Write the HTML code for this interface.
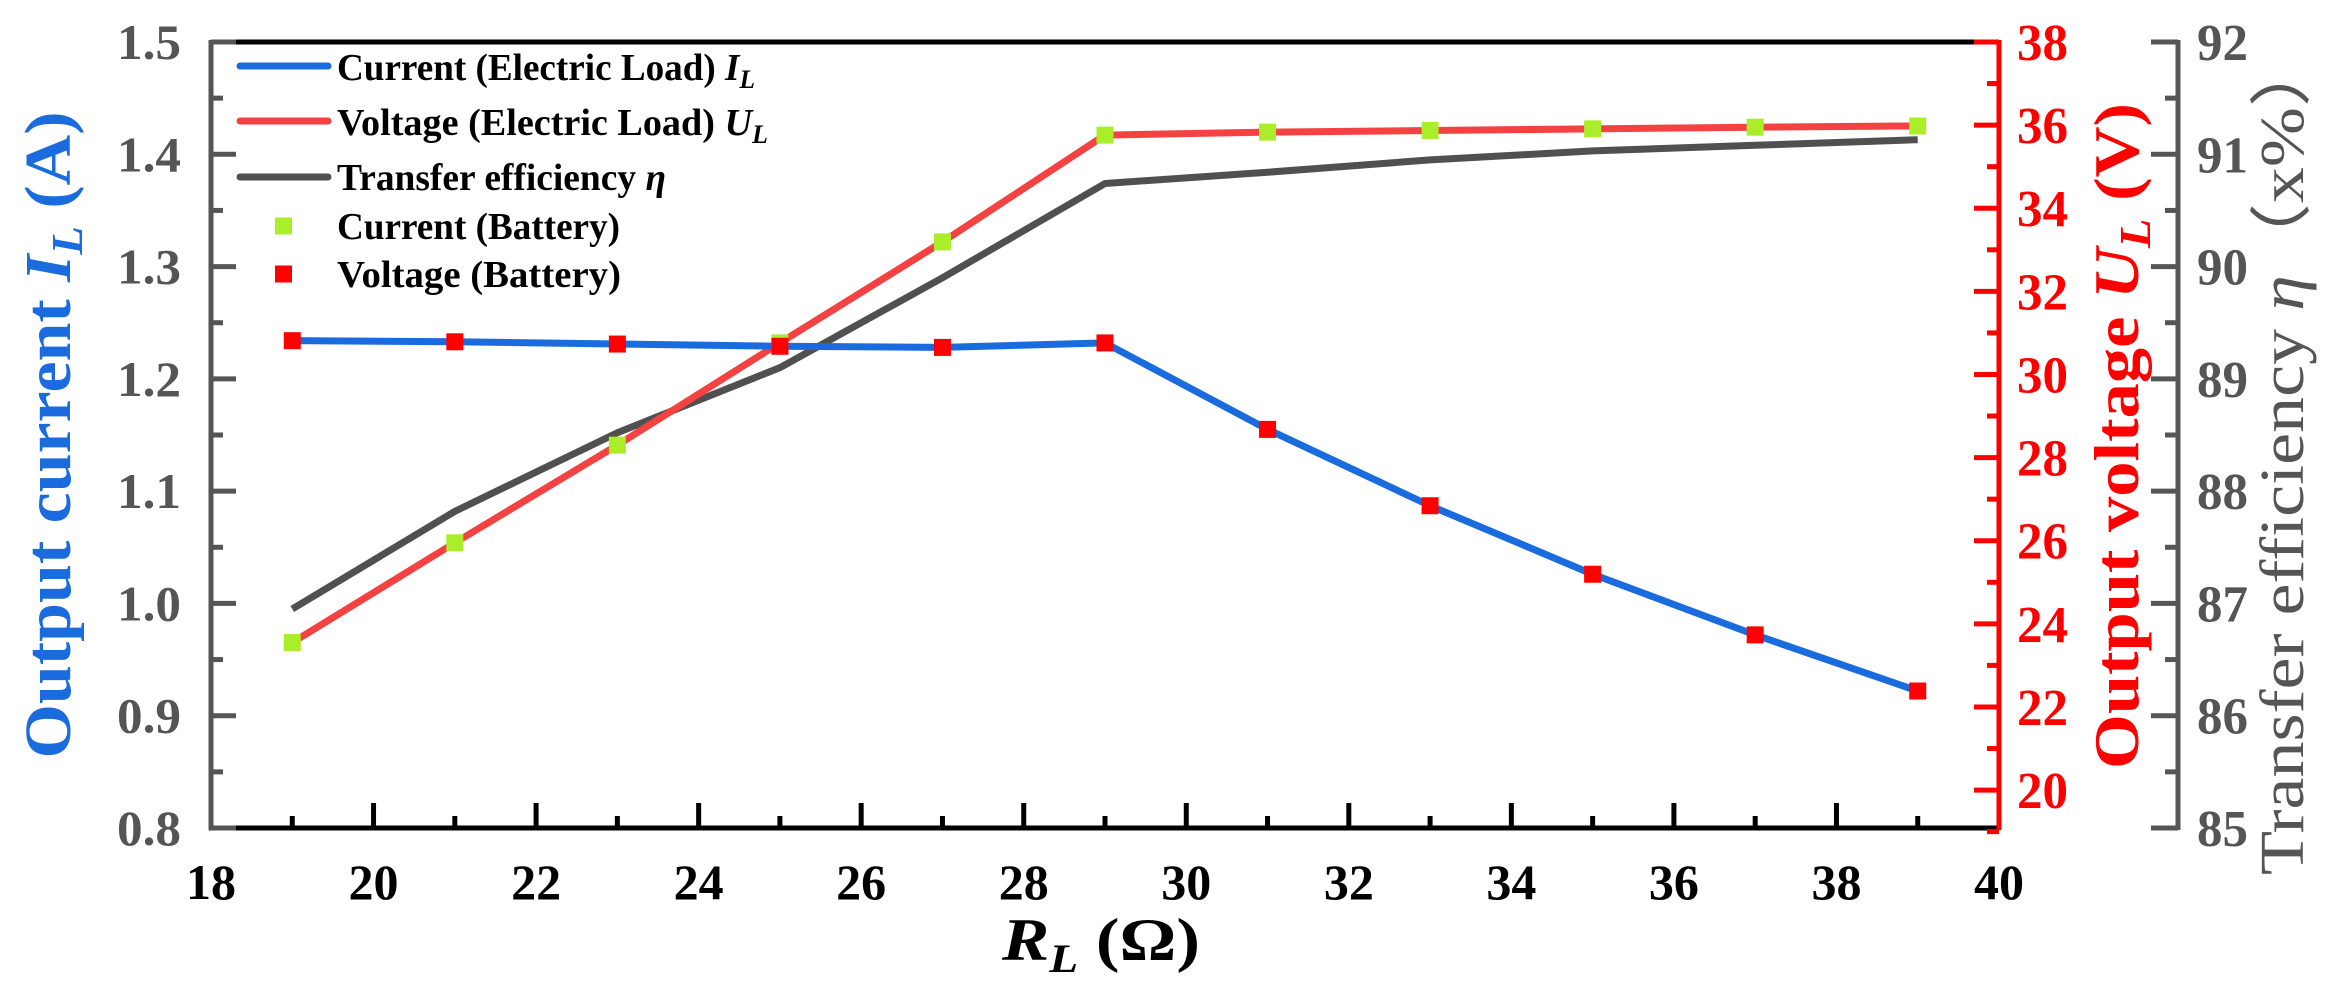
<!DOCTYPE html>
<html><head><meta charset="utf-8"><style>
html,body{margin:0;padding:0;background:#fff;}
svg{display:block;}
text{font-family:"Liberation Serif",serif;font-weight:bold;}
</style></head><body>
<svg id="chart" width="2350" height="1000" viewBox="0 0 2350 1000" xmlns="http://www.w3.org/2000/svg"></svg>
<script>
const xValues=[19,21,23,25,27,29,31,33,35,37,39];
const currentLoad=[1.234,1.233,1.231,1.229,1.228,1.232,1.155,1.087,1.026,0.972,0.922];
const currentBattery=[1.234,1.233,1.231,1.229,1.228,1.232,1.155,1.087,1.026,0.972,0.922];
const voltageLoad=[23.55,25.95,28.3,30.76,33.19,35.76,35.83,35.87,35.91,35.95,35.98];
const voltageBattery=[23.55,25.95,28.3,30.76,33.19,35.76,35.83,35.87,35.91,35.95,35.98];
const efficiency=[86.95,87.82,88.52,89.1,89.9,90.74,90.84,90.95,91.03,91.08,91.13];
const xTicks=[18,20,22,24,26,28,30,32,34,36,38,40];
const yLeftTicks=["0.8","0.9","1.0","1.1","1.2","1.3","1.4","1.5"];
const yRedTicks=[20,22,24,26,28,30,32,34,36,38];
const yGrayTicks=[85,86,87,88,89,90,91,92];

const L=211,R=1999,T=42,B=828,G=2178;
const sx=v=>L+(v-18)/(40-18)*(R-L);
const syL=v=>B-(v-0.8)/(1.5-0.8)*(B-T);
const syR=v=>T+(38-v)*41.56;
const syG=v=>B-(v-85)/(92-85)*(B-T);
const svg=document.getElementById('chart');
const NS="http://www.w3.org/2000/svg";
function mk(tag,attrs,parent){const e=document.createElementNS(NS,tag);for(const k in attrs)e.setAttribute(k,attrs[k]);(parent||svg).appendChild(e);return e;}
function txt(s,attrs,parent){const e=mk('text',attrs,parent);e.textContent=s;return e;}

let a;
a=mk('line',{x1:L,y1:T,x2:R,y2:T,stroke:'#000','stroke-width':5});

a=mk('line',{x1:L-2,y1:B,x2:R,y2:B,stroke:'#000','stroke-width':5});

a=mk('line',{x1:L,y1:T-2,x2:L,y2:B+2,stroke:'#555','stroke-width':5});

a=mk('line',{x1:R,y1:T-2,x2:R,y2:B+2,stroke:'#f00','stroke-width':5});

a=mk('line',{x1:G,y1:T-2,x2:G,y2:B+2,stroke:'#555','stroke-width':5});


xTicks.forEach((v,i)=>{
  const x=sx(v);
  if(i>0&&i<xTicks.length-1){const t=mk('line',{x1:x,y1:B,x2:x,y2:B-25,stroke:'#000','stroke-width':5});
  }
  if(i<xTicks.length-1){const m=mk('line',{x1:sx(v+1),y1:B,x2:sx(v+1),y2:B-12,stroke:'#000','stroke-width':5});
  }
  const l=txt(v,{x:x,y:899,'text-anchor':'middle','font-size':50,fill:'#000',textLength:50,lengthAdjust:'spacingAndGlyphs'});
  
});
yLeftTicks.forEach((s,i)=>{
  const v=parseFloat(s),y=syL(v);
  const t=mk('line',{x1:L,y1:y,x2:L+25,y2:y,stroke:'#555','stroke-width':5});
  
  if(i<yLeftTicks.length-1){const m=mk('line',{x1:L,y1:syL(v+0.05),x2:L+12,y2:syL(v+0.05),stroke:'#555','stroke-width':5});
  }
  const l=txt(s,{x:117,y:y+17,'font-size':50,fill:'#555',textLength:64,lengthAdjust:'spacingAndGlyphs'});
  
});
yRedTicks.forEach((v,i)=>{
  const y=syR(v);
  const t=mk('line',{x1:R,y1:y,x2:R-25,y2:y,stroke:'#f00','stroke-width':5});
  
  const m=mk('line',{x1:R,y1:syR(v-1),x2:R-12,y2:syR(v-1),stroke:'#f00','stroke-width':5});
  
  const l=txt(v,{x:2017,y:y+18,'font-size':52,fill:'#f00',textLength:51,lengthAdjust:'spacingAndGlyphs'});
  
});
yGrayTicks.forEach((v,i)=>{
  const y=syG(v);
  const t=mk('line',{x1:G,y1:y,x2:G-27,y2:y,stroke:'#555','stroke-width':5});
  
  if(i<yGrayTicks.length-1){const m=mk('line',{x1:G,y1:syG(v+0.5),x2:G-13,y2:syG(v+0.5),stroke:'#555','stroke-width':5});
  }
  const l=txt(v,{x:2197,y:y+18,'font-size':52,fill:'#555',textLength:51,lengthAdjust:'spacingAndGlyphs'});
  
});

function poly(vals,sy,color,name){
  const p=mk('polyline',{points:vals.map((v,i)=>sx(xValues[i])+','+sy(v)).join(' '),fill:'none',stroke:color,'stroke-width':7,'stroke-linejoin':'round'});
  
}
poly(efficiency,syG,'#505050','efficiency-line');
poly(voltageLoad,syR,'#f44242','voltage-load-line');
poly(currentLoad,syL,'#1a6bdd','current-load-line');
function squares(vals,sy,color,name){
  vals.forEach((v,i)=>{
    const r=mk('rect',{x:sx(xValues[i])-8.5,y:sy(v)-8.5,width:17,height:17,fill:color});
    
  });
}
squares(voltageBattery,syR,'#aaee2a','current-battery-marker');
squares(currentBattery,syL,'#ff0000','voltage-battery-marker');

const lg=mk('g',{});

const items=[['line','#1a6bdd','Current (Electric Load) ','I','L',66,80,418],['line','#f44242','Voltage  (Electric Load) ','U','L',121,135,431],['line','#505050','Transfer efficiency ','η','',177,190,329],['sq','#aaee2a','Current (Battery)','','',226,239,283],['sq','#ff0000','Voltage  (Battery)','','',274,287,284]];
items.forEach(it=>{
  const g=mk('g',{},lg);
  
  if(it[0]=='line'){mk('line',{x1:240,y1:it[5],x2:328,y2:it[5],stroke:it[1],'stroke-width':7,'stroke-linecap':'round'},g);}
  else{mk('rect',{x:275,y:it[5]-8.5,width:17,height:17,fill:it[1]},g);}
  const t=txt('',{x:337,y:it[6],'font-size':38,fill:'#000',textLength:it[7],lengthAdjust:'spacingAndGlyphs'},g);
  const s1=document.createElementNS(NS,'tspan');s1.textContent=it[2];t.appendChild(s1);
  if(it[3]){const s2=document.createElementNS(NS,'tspan');s2.setAttribute('font-style','italic');s2.textContent=it[3];t.appendChild(s2);}
  if(it[4]){const s3=document.createElementNS(NS,'tspan');s3.setAttribute('font-style','italic');s3.setAttribute('font-size','26');s3.setAttribute('dy','8');s3.textContent=it[4];t.appendChild(s3);}
});
</script>
<svg style="position:absolute;left:0;top:0" width="2350" height="1000" xmlns="http://www.w3.org/2000/svg">
<text x="1002" y="960" font-size="60" fill="#000" font-family="Liberation Serif" font-weight="bold" textLength="198" lengthAdjust="spacingAndGlyphs"><tspan font-style="italic">R</tspan><tspan font-style="italic" font-size="40" dy="12">L</tspan><tspan dy="-12"> (Ω)</tspan></text>
<text transform="translate(70,435) rotate(-90)" text-anchor="middle" font-size="66" fill="#1a6bdd" font-family="Liberation Serif" font-weight="bold" textLength="647" lengthAdjust="spacingAndGlyphs">Output current <tspan font-style="italic">I</tspan><tspan font-style="italic" font-size="44" dy="12">L</tspan><tspan dy="-12"> (A)</tspan></text>
<text transform="translate(2138,436) rotate(-90)" text-anchor="middle" font-size="64" fill="#f00" font-family="Liberation Serif" font-weight="bold" textLength="666" lengthAdjust="spacingAndGlyphs">Output voltage <tspan font-style="italic">U</tspan><tspan font-style="italic" font-size="44" dy="12">L</tspan><tspan dy="-12"> (V)</tspan></text>
<text transform="translate(2303,455) rotate(-90)" text-anchor="middle" font-size="62" fill="#555" font-family="Liberation Serif" style="font-weight:normal" textLength="840" lengthAdjust="spacingAndGlyphs">Transfer efficiency <tspan font-style="italic">η</tspan>（x%）</text>
</svg>
</body></html>
